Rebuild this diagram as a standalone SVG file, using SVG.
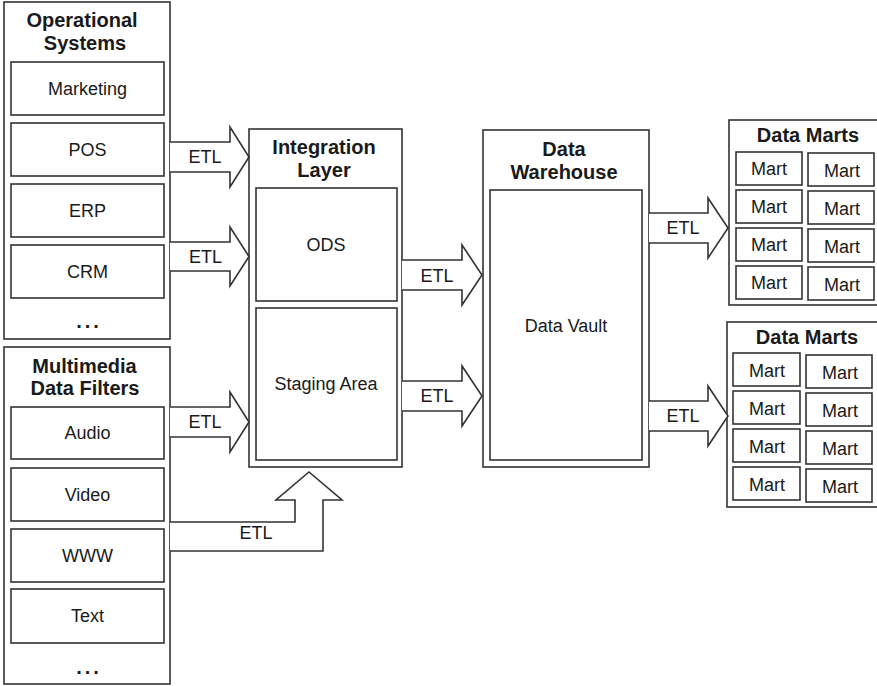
<svg xmlns="http://www.w3.org/2000/svg" width="877" height="686" viewBox="0 0 877 686">
<style>
.box{fill:#fff;stroke:#333;stroke-width:1.6}
.arrow{fill:#fff;stroke:#333;stroke-width:1.6;stroke-linejoin:miter}
text{font-family:"Liberation Sans",Arial,sans-serif;fill:#1a1a1a;text-anchor:middle}
.t{font-size:18px}
.h{font-size:20px;font-weight:bold}
.dots{font-size:20px;font-weight:bold;letter-spacing:3px}
</style>
<rect width="877" height="686" fill="#fff"/>
<g id="operational-systems">
<rect class="box" x="4" y="2" width="166" height="337"/>
<text class="h" x="82" y="27">Operational</text>
<text class="h" x="85" y="50">Systems</text>
<rect class="box" x="11" y="62" width="153" height="53"/>
<text class="t" x="87.5" y="95">Marketing</text>
<rect class="box" x="11" y="123" width="153" height="53"/>
<text class="t" x="87.5" y="156">POS</text>
<rect class="box" x="11" y="184" width="153" height="53"/>
<text class="t" x="87.5" y="217">ERP</text>
<rect class="box" x="11" y="245" width="153" height="53"/>
<text class="t" x="87.5" y="278">CRM</text>
<text class="dots" x="89" y="328">...</text>
</g>
<g id="multimedia-data-filters">
<rect class="box" x="4" y="347" width="166" height="337"/>
<text class="h" x="84.5" y="373">Multimedia</text>
<text class="h" x="85" y="395">Data Filters</text>
<rect class="box" x="11" y="407" width="153" height="52"/>
<text class="t" x="87.5" y="439">Audio</text>
<rect class="box" x="11" y="468" width="153" height="53"/>
<text class="t" x="87.5" y="501">Video</text>
<rect class="box" x="11" y="529" width="153" height="53"/>
<text class="t" x="87.5" y="562">WWW</text>
<rect class="box" x="11" y="589" width="153" height="54"/>
<text class="t" x="87.5" y="622">Text</text>
<text class="dots" x="89" y="674">...</text>
</g>
<g id="integration-layer">
<rect class="box" x="249" y="129" width="153" height="338"/>
<text class="h" x="324" y="154">Integration</text>
<text class="h" x="324" y="177">Layer</text>
<rect class="box" x="256" y="188" width="141" height="113"/>
<text class="t" x="326" y="251">ODS</text>
<rect class="box" x="256" y="308" width="141" height="152"/>
<text class="t" x="326" y="390">Staging Area</text>
</g>
<g id="data-warehouse">
<rect class="box" x="483" y="130" width="166" height="337"/>
<text class="h" x="564" y="156">Data</text>
<text class="h" x="564" y="179">Warehouse</text>
<rect class="box" x="490" y="190" width="152" height="270"/>
<text class="t" x="566" y="332">Data Vault</text>
</g>
<g id="data-marts-1">
<rect class="box" x="729" y="120" width="152" height="185"/>
<text class="h" x="808" y="142">Data Marts</text>
<rect class="box" x="736" y="152" width="66" height="33"/><text class="t" x="769" y="175">Mart</text>
<rect class="box" x="736" y="190" width="66" height="33"/><text class="t" x="769" y="213">Mart</text>
<rect class="box" x="736" y="228" width="66" height="33"/><text class="t" x="769" y="251">Mart</text>
<rect class="box" x="736" y="266" width="66" height="33"/><text class="t" x="769" y="289">Mart</text>
<rect class="box" x="808" y="153" width="66" height="33"/><text class="t" x="842" y="177">Mart</text>
<rect class="box" x="808" y="191" width="66" height="33"/><text class="t" x="842" y="215">Mart</text>
<rect class="box" x="808" y="229" width="66" height="33"/><text class="t" x="842" y="253">Mart</text>
<rect class="box" x="808" y="267" width="66" height="33"/><text class="t" x="842" y="291">Mart</text>
</g>
<g id="data-marts-2">
<rect class="box" x="727" y="322" width="154" height="185"/>
<text class="h" x="807" y="344">Data Marts</text>
<rect class="box" x="733" y="353" width="67" height="33"/><text class="t" x="767" y="377">Mart</text>
<rect class="box" x="733" y="391" width="67" height="33"/><text class="t" x="767" y="415">Mart</text>
<rect class="box" x="733" y="429" width="67" height="33"/><text class="t" x="767" y="453">Mart</text>
<rect class="box" x="733" y="467" width="67" height="33"/><text class="t" x="767" y="491">Mart</text>
<rect class="box" x="806" y="355" width="66" height="33"/><text class="t" x="840" y="379">Mart</text>
<rect class="box" x="806" y="393" width="66" height="33"/><text class="t" x="840" y="417">Mart</text>
<rect class="box" x="806" y="431" width="66" height="33"/><text class="t" x="840" y="455">Mart</text>
<rect class="box" x="806" y="469" width="66" height="33"/><text class="t" x="840" y="493">Mart</text>
</g>
<g id="connectors">
<path class="arrow" d="M170,142 H230 V127 L249,157 L230,187 V172 H170"/>
<text class="t" x="205" y="163">ETL</text>
<path class="arrow" d="M170,242 H230 V227 L249,256.5 L230,286 V271 H170"/>
<text class="t" x="205.5" y="263">ETL</text>
<path class="arrow" d="M170,407 H230 V392 L249,422 L230,452 V437 H170"/>
<text class="t" x="205" y="428">ETL</text>
<path class="arrow" d="M170,522 H295 V500 H276 L309,472 L342,500 H323 V551 H170"/>
<text class="t" x="256" y="539">ETL</text>
<path class="arrow" d="M402,260 H462 V245 L482,275 L462,305 V290 H402"/>
<text class="t" x="437" y="282">ETL</text>
<path class="arrow" d="M402,381 H462 V366 L482,396 L462,426 V411 H402"/>
<text class="t" x="437" y="402">ETL</text>
<path class="arrow" d="M649,213 H708 V198 L728,228 L708,258 V243 H649"/>
<text class="t" x="683" y="234">ETL</text>
<path class="arrow" d="M649,401 H708 V386 L728,416 L708,446 V431 H649"/>
<text class="t" x="683" y="422">ETL</text>
</g>
</svg>
